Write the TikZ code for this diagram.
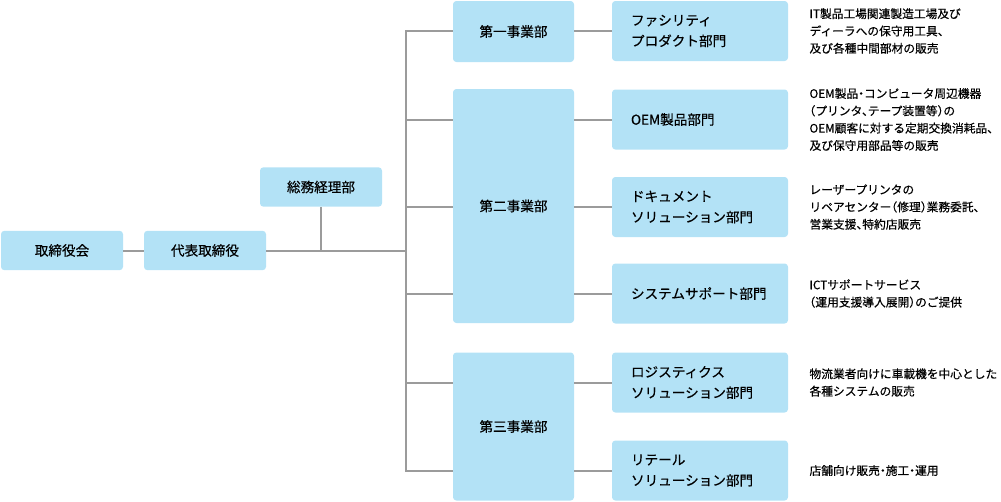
\documentclass[tikz,border=0pt]{standalone}
\usepackage{fontspec}
\setmainfont{Noto Sans CJK JP}[FakeBold=0.4]
\newfontfamily\descfont{Noto Sans CJK JP}[FakeBold=0.35, RawFeature=+halt]
\usetikzlibrary{positioning}
\definecolor{boxblue}{RGB}{179,226,246}
\definecolor{linegray}{RGB}{155,155,155}

\begin{document}
\begin{tikzpicture}[x=0.75pt, y=-0.75pt,
    box/.style={fill=boxblue, rounded corners=2.5pt, inner sep=0pt, align=center,
      font=\fontsize{10.2pt}{15.5pt}\selectfont},
    topbox/.style={box, minimum width=91.5pt, minimum height=29.5pt},
    divbox/.style={box, minimum width=90.75pt},
    subbox/.style={box, minimum width=132pt, minimum height=45pt, inner xsep=14.25pt,
      text width=103.5pt, align=left},
    desc/.style={align=left, inner sep=0pt, font=\descfont\fontsize{8.8pt}{13pt}\selectfont},
    link/.style={draw=linegray, line width=1.5pt}]
  \useasboundingbox (0,0) rectangle (1001,501);
  % top of the chart
  \node[topbox] (board) at (62,250.5) {取締役会};
  \node[topbox] (ceo) at (205,250.5) {代表取締役};
  \node[topbox] (admin) at (321,187) {総務経理部};
  % divisions
  \node[divbox, minimum height=45.75pt] (div1) at (513.5,31.5) {第一事業部};
  \node[divbox, minimum height=175.5pt] (div2) at (513.5,206) {第二事業部};
  \node[divbox, minimum height=111pt] (div3) at (513.5,426.5) {第三事業部};
  % departments
  \foreach \n/\y/\t in {fac/31/{ファシリティ\\プロダクト部門}, oem/119.5/{OEM製品部門},
      doc/207/{ドキュメント\\ソリューション部門}, sys/293.5/{システムサポート部門},
      log/382.5/{ロジスティクス\\ソリューション部門}, ret/470.5/{リテール\\ソリューション部門}}
    \node[subbox] (\n) at (700,\y) {\t};
  % what each department does
  \node[desc, right=15.75pt of fac] (fac-d) {IT製品工場関連製造工場及び\\ディーラへの保守用工具、\\及び各種中間部材の販売};
  \node[desc, right=15.75pt of oem] (oem-d) {OEM製品・コンピュータ周辺機器\\（プリンタ、テープ装置等）の\\OEM顧客に対する定期交換消耗品、\\及び保守用部品等の販売};
  \node[desc, right=15.75pt of doc] (doc-d) {レーザープリンタの\\リペアセンター（修理）業務委託、\\営業支援、特約店販売};
  \node[desc, right=15.75pt of sys] (sys-d) {ICTサポートサービス\\（運用支援導入展開）のご提供};
  \node[desc, right=15.75pt of log] (log-d) {物流業者向けに車載機を中心とした\\各種システムの販売};
  \node[desc, right=15.75pt of ret] (ret-d) {店舗向け販売・施工・運用};
  % connectors
  \coordinate (trunk) at (406,250.5);
  \draw[link] (board) -- (ceo);
  \draw[link] (ceo.east) -- (trunk);
  \draw[link] (admin) -- (admin |- ceo);
  \draw[link, line cap=rect] (trunk |- fac) -- (trunk |- ret);
  \foreach \d/\s in {div1/fac, div2/oem, div2/doc, div2/sys, div3/log, div3/ret} {
    \draw[link] (trunk |- \s) -- (\d.west |- \s);
    \draw[link] (\d.east |- \s) -- (\s.west);
  }
\end{tikzpicture}
\end{document}
